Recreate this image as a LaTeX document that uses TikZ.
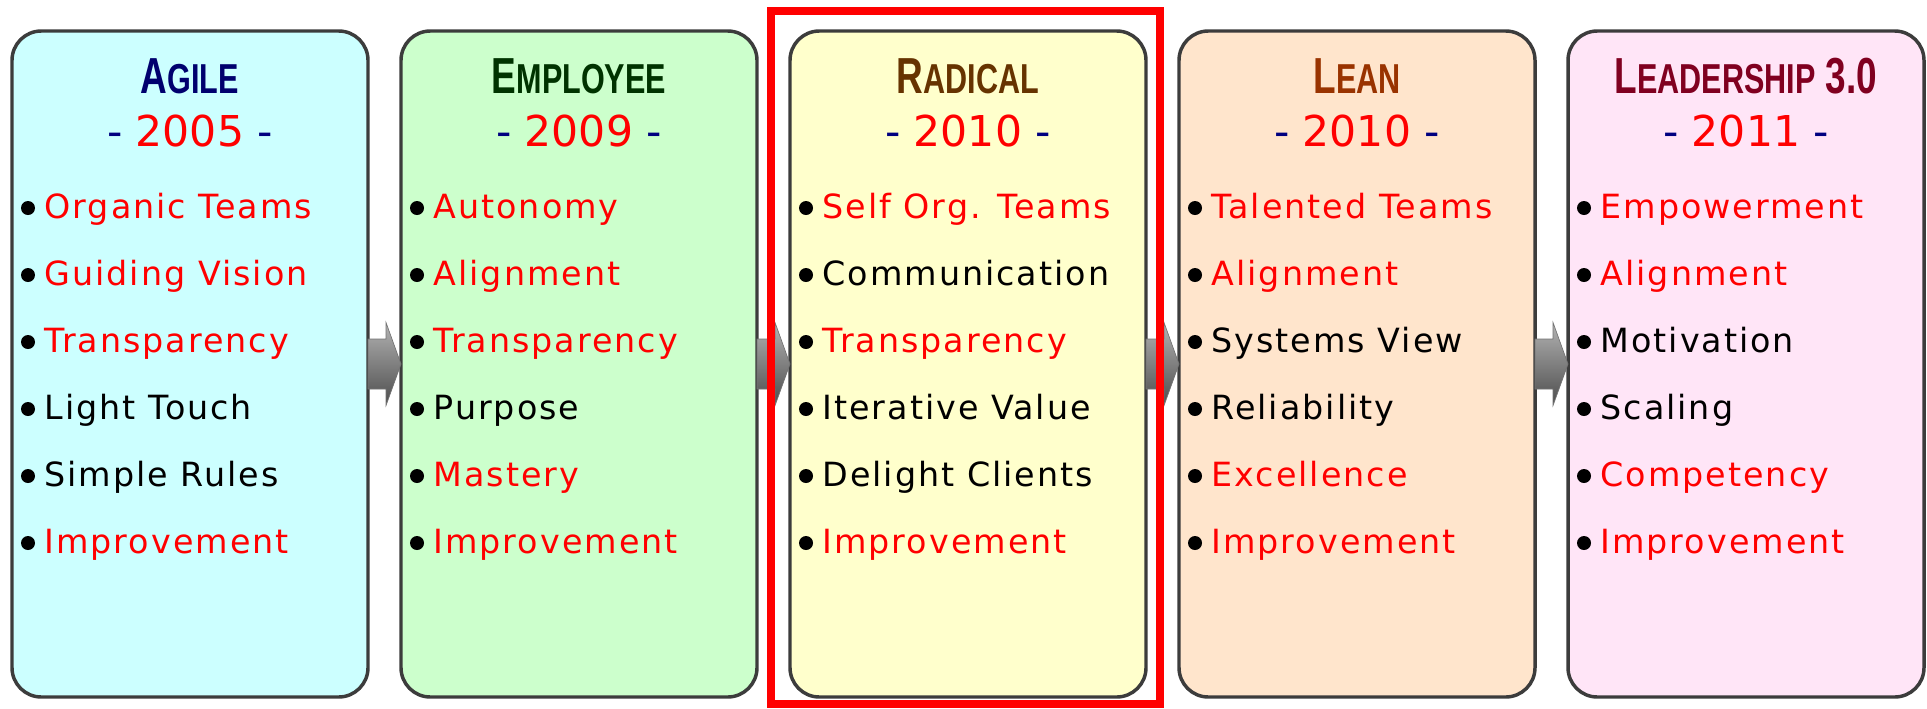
\documentclass[tikz,border=0pt]{standalone}
\usepackage{fontspec}
\usetikzlibrary{calc}

\setmainfont{DejaVu Sans}
\newfontfamily\itemfont{DejaVu Sans}[LetterSpace=6]
\newfontfamily\titlefont{Liberation Sans}[FakeStretch=0.73]
\newcommand{\capsc}[2]{{\fontsize{38}{40}\selectfont #1}{\fontsize{31.4}{34}\selectfont #2}}

\definecolor{agilefill}{RGB}{204,255,255}
\definecolor{employeefill}{RGB}{204,255,204}
\definecolor{radicalfill}{RGB}{255,255,204}
\definecolor{leanfill}{RGB}{255,229,204}
\definecolor{leaderfill}{RGB}{255,229,247}
\definecolor{agiletitle}{RGB}{0,0,110}
\definecolor{employeetitle}{RGB}{0,51,0}
\definecolor{radicaltitle}{RGB}{102,51,0}
\definecolor{leantitle}{RGB}{153,51,0}
\definecolor{leadertitle}{RGB}{128,0,32}
\definecolor{yeardash}{RGB}{0,0,128}
\definecolor{hotred}{RGB}{255,0,0}

\tikzset{every picture/.style={line width=0.75pt}}
\tikzset{
  box/.style={rectangle, rounded corners=22pt, draw={rgb,255:red,60;green,60;blue,60}, line width=2.6pt, minimum width=267pt, minimum height=499.5pt, inner sep=0pt, outer sep=0pt},
  title/.style={anchor=base, inner sep=0.75pt, font=\titlefont\bfseries},
  year/.style={anchor=base, inner sep=0.75pt, font=\fontsize{31.9}{36}\selectfont},
  item/.style={anchor=base west, inner sep=0pt, font=\itemfont\fontsize{25}{30}\selectfont},
  dot/.style={circle, fill=black, inner sep=0pt, minimum size=10.5pt},
  arrowfill/.style={top color=black!30, bottom color=black!70, draw=black!55, line width=0.5pt},
}

\begin{document}
\begin{tikzpicture}[x=0.75pt,y=0.75pt,yscale=-1,xscale=1]
\path[use as bounding box, fill=white] (0,0) rectangle (1927,708);

%Rounded Rect [Agile]
\node[box, fill=agilefill] (agile) at (190,364) {};
%Rounded Rect [Employee]
\node[box, fill=employeefill] (employee) at (579,364) {};
%Rounded Rect [Radical]
\node[box, fill=radicalfill] (radical) at (968,364) {};
%Rounded Rect [Lean]
\node[box, fill=leanfill] (lean) at (1357,364) {};
%Rounded Rect [Leadership]
\node[box, fill=leaderfill] (leader) at (1746,364) {};

%Right Arrows
\draw[arrowfill] (agile.east) ++(0,-25) -- ++(18,0) -- ++(0,-16.5) -- (employee.west) -- ++(-15,41.5) -- ++(0,-16.5) -- ++(-18,0) -- cycle;
\draw[arrowfill] (employee.east) ++(0,-25) -- ++(18,0) -- ++(0,-16.5) -- (radical.west) -- ++(-15,41.5) -- ++(0,-16.5) -- ++(-18,0) -- cycle;
\draw[arrowfill] (radical.east) ++(0,-25) -- ++(18,0) -- ++(0,-16.5) -- (lean.west) -- ++(-15,41.5) -- ++(0,-16.5) -- ++(-18,0) -- cycle;
\draw[arrowfill] (lean.east) ++(0,-25) -- ++(18,0) -- ++(0,-16.5) -- (leader.west) -- ++(-15,41.5) -- ++(0,-16.5) -- ++(-18,0) -- cycle;

% Text Node
\node[title, text=agiletitle] (agile-t) at (190,93) {\capsc{A}{GILE}};
\node[year] (agile-y) at (190,146) {\textcolor{yeardash}{-} \textcolor{hotred}{2005} \textcolor{yeardash}{-}};
% Text Node
\node[title, text=employeetitle] (employee-t) at (579,93) {\capsc{E}{MPLOYEE}};
\node[year] (employee-y) at (579,146) {\textcolor{yeardash}{-} \textcolor{hotred}{2009} \textcolor{yeardash}{-}};
% Text Node
\node[title, text=radicaltitle] (radical-t) at (968,93) {\capsc{R}{ADICAL}};
\node[year] (radical-y) at (968,146) {\textcolor{yeardash}{-} \textcolor{hotred}{2010} \textcolor{yeardash}{-}};
% Text Node
\node[title, text=leantitle] (lean-t) at (1357,93) {\capsc{L}{EAN}};
\node[year] (lean-y) at (1357,146) {\textcolor{yeardash}{-} \textcolor{hotred}{2010} \textcolor{yeardash}{-}};
% Text Node
\node[title, text=leadertitle] (leader-t) at (1746,93) {\capsc{L}{EADERSHIP}{\fontsize{38}{40}\selectfont\ 3.0}};
\node[year] (leader-y) at (1746,146) {\textcolor{yeardash}{-} \textcolor{hotred}{2011} \textcolor{yeardash}{-}};

%Bullets [Agile]
\node[dot] (agile-d1) at (28,208) {};
\node[dot] (agile-d2) at (28,275) {};
\node[dot] (agile-d3) at (28,342) {};
\node[dot] (agile-d4) at (28,409) {};
\node[dot] (agile-d5) at (28,476) {};
\node[dot] (agile-d6) at (28,543) {};
\node[item, text=hotred] (agile-1) at (44,218) {Organic Teams};
\node[item, text=hotred] (agile-2) at (44,285) {Guiding Vision};
\node[item, text=hotred] (agile-3) at (44,352) {Transparency};
\node[item, text=black] (agile-4) at (44,419) {Light Touch};
\node[item, text=black] (agile-5) at (44,486) {Simple Rules};
\node[item, text=hotred] (agile-6) at (44,553) {Improvement};

%Bullets [Employee]
\node[dot] (employee-d1) at (417,208) {};
\node[dot] (employee-d2) at (417,275) {};
\node[dot] (employee-d3) at (417,342) {};
\node[dot] (employee-d4) at (417,409) {};
\node[dot] (employee-d5) at (417,476) {};
\node[dot] (employee-d6) at (417,543) {};
\node[item, text=hotred] (employee-1) at (433,218) {Autonomy};
\node[item, text=hotred] (employee-2) at (433,285) {Alignment};
\node[item, text=hotred] (employee-3) at (433,352) {Transparency};
\node[item, text=black] (employee-4) at (433,419) {Purpose};
\node[item, text=hotred] (employee-5) at (433,486) {Mastery};
\node[item, text=hotred] (employee-6) at (433,553) {Improvement};

%Bullets [Radical]
\node[dot] (radical-d1) at (806,208) {};
\node[dot] (radical-d2) at (806,275) {};
\node[dot] (radical-d3) at (806,342) {};
\node[dot] (radical-d4) at (806,409) {};
\node[dot] (radical-d5) at (806,476) {};
\node[dot] (radical-d6) at (806,543) {};
\node[item, text=hotred] (radical-1) at (822,218) {Self Org. Teams};
\node[item, text=black] (radical-2) at (822,285) {Communication};
\node[item, text=hotred] (radical-3) at (822,352) {Transparency};
\node[item, text=black] (radical-4) at (822,419) {Iterative Value};
\node[item, text=black] (radical-5) at (822,486) {Delight Clients};
\node[item, text=hotred] (radical-6) at (822,553) {Improvement};

%Bullets [Lean]
\node[dot] (lean-d1) at (1195,208) {};
\node[dot] (lean-d2) at (1195,275) {};
\node[dot] (lean-d3) at (1195,342) {};
\node[dot] (lean-d4) at (1195,409) {};
\node[dot] (lean-d5) at (1195,476) {};
\node[dot] (lean-d6) at (1195,543) {};
\node[item, text=hotred] (lean-1) at (1211,218) {Talented Teams};
\node[item, text=hotred] (lean-2) at (1211,285) {Alignment};
\node[item, text=black] (lean-3) at (1211,352) {Systems View};
\node[item, text=black] (lean-4) at (1211,419) {Reliability};
\node[item, text=hotred] (lean-5) at (1211,486) {Excellence};
\node[item, text=hotred] (lean-6) at (1211,553) {Improvement};

%Bullets [Leadership]
\node[dot] (leader-d1) at (1584,208) {};
\node[dot] (leader-d2) at (1584,275) {};
\node[dot] (leader-d3) at (1584,342) {};
\node[dot] (leader-d4) at (1584,409) {};
\node[dot] (leader-d5) at (1584,476) {};
\node[dot] (leader-d6) at (1584,543) {};
\node[item, text=hotred] (leader-1) at (1600,218) {Empowerment};
\node[item, text=hotred] (leader-2) at (1600,285) {Alignment};
\node[item, text=black] (leader-3) at (1600,352) {Motivation};
\node[item, text=black] (leader-4) at (1600,419) {Scaling};
\node[item, text=hotred] (leader-5) at (1600,486) {Competency};
\node[item, text=hotred] (leader-6) at (1600,553) {Improvement};

%Highlight Frame
\draw[hotred, line width=6pt] (771,11) rectangle (1160,704);

\end{tikzpicture}
\end{document}
